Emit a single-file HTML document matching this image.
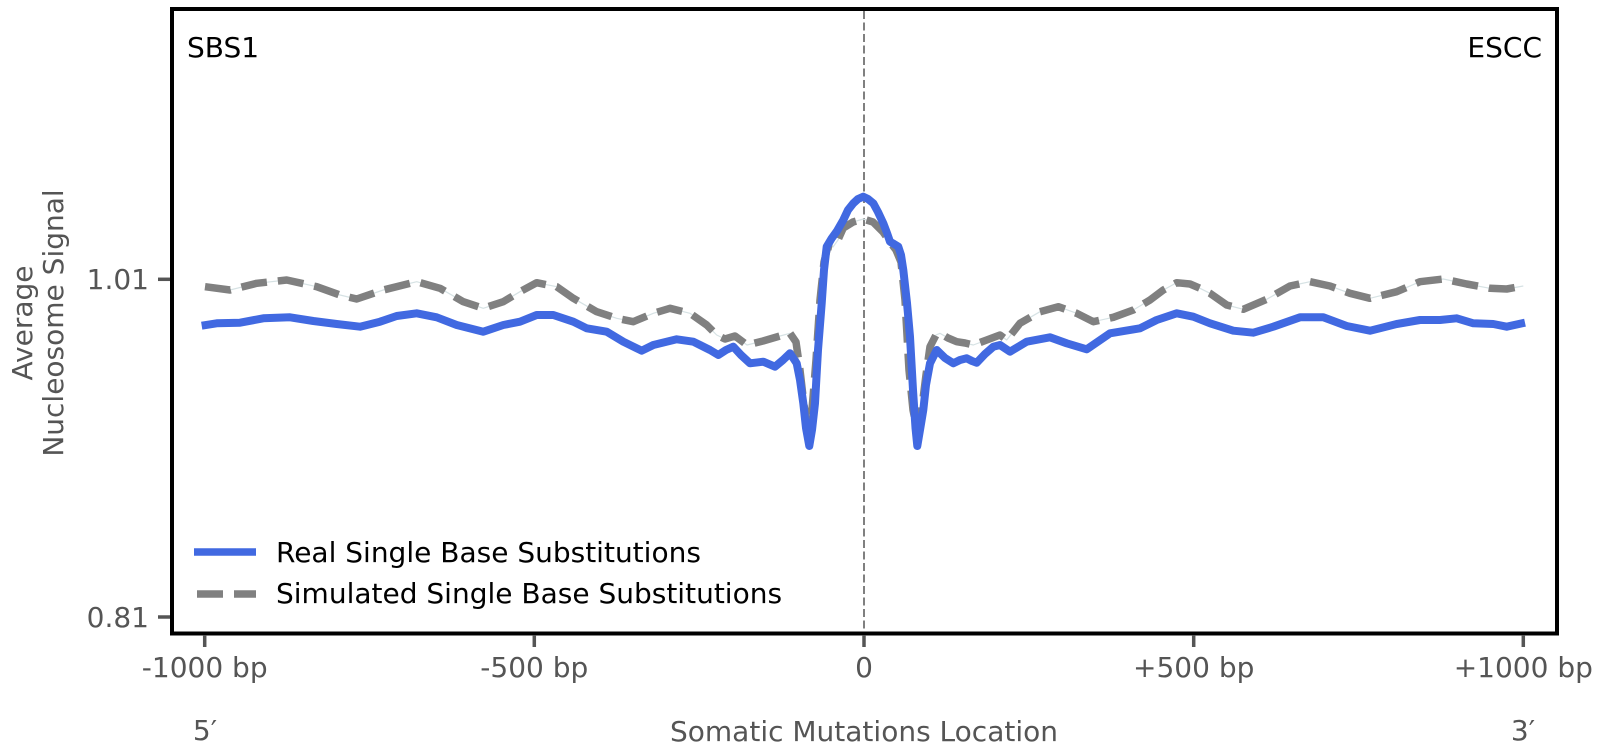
<!DOCTYPE html>
<html>
<head>
<meta charset="utf-8">
<style>
  html, body { margin: 0; padding: 0; background: #ffffff; }
  svg { display: block; }
  text { font-family: "DejaVu Sans", "Liberation Sans", sans-serif; }
</style>
</head>
<body>
<svg width="1603" height="756" viewBox="0 0 1603 756" xmlns="http://www.w3.org/2000/svg">
  <rect x="0" y="0" width="1603" height="756" fill="#ffffff"/>

  <!-- vertical center dashed line -->
  <line x1="864" y1="11" x2="864" y2="632" stroke="#808080" stroke-width="2" stroke-dasharray="8 3.5"/>

  <!-- simulated (gray dashed) with thin connector -->
  <polyline fill="none" stroke="#d6e2e4" stroke-width="1.2" stroke-linejoin="round" points="
205,286.7 230,290 256.7,283.3 286.7,280 316.7,286.7 340,295 356.7,299 383.3,290 416.7,281.7 440,288.3 463.3,301.7 483.3,308.3 503.3,301.7 520,291.7 536.7,282.7 556.7,286.7 573.3,298.3 596.7,311.7 616.7,318.3 633.3,321.7 653.3,313.3 670,308.3 690,313.3 706.7,325 716.7,335 725,339 735,336 747,345 763,341 780,336 790,333.3 796,342 800,370 804,405 808,428 812,410 816,360 820,300 824,262 828,246 833,247 838,240 843.3,228 853,222 863.3,219 873,222 883,232 890,242 896,250 901,262 905,300 909,370 913,410 917,430 921,415 926,375 930,346.7 936,335 940,333.3 948,338 956.7,341.7 965,343 973.3,345 986.7,340 1000,335 1006.7,340 1020,323.3 1040,311.7 1058.3,306.7 1076.7,313.3 1093.3,321.7 1113.3,317.3 1133.3,310 1150,300 1163.3,290 1176.7,282.7 1190,284 1200,288.3 1210,293.3 1226.7,305 1243.3,309.3 1266.7,299.3 1290,286 1310,281.7 1330,286 1350,293.3 1370,298.3 1396.7,291.7 1420,281.7 1443.3,279 1466.7,284 1490,288.3 1506.7,289 1523.3,286"/>
  <polyline fill="none" stroke="#808080" stroke-width="7.5" stroke-dasharray="26 11" stroke-linejoin="round" points="
205,286.7 230,290 256.7,283.3 286.7,280 316.7,286.7 340,295 356.7,299 383.3,290 416.7,281.7 440,288.3 463.3,301.7 483.3,308.3 503.3,301.7 520,291.7 536.7,282.7 556.7,286.7 573.3,298.3 596.7,311.7 616.7,318.3 633.3,321.7 653.3,313.3 670,308.3 690,313.3 706.7,325 716.7,335 725,339 735,336 747,345 763,341 780,336 790,333.3 796,342 800,370 804,405 808,428 812,410 816,360 820,300 824,262 828,246 833,247 838,240 843.3,228 853,222 863.3,219 873,222 883,232 890,242 896,250 901,262 905,300 909,370 913,410 917,430 921,415 926,375 930,346.7 936,335 940,333.3 948,338 956.7,341.7 965,343 973.3,345 986.7,340 1000,335 1006.7,340 1020,323.3 1040,311.7 1058.3,306.7 1076.7,313.3 1093.3,321.7 1113.3,317.3 1133.3,310 1150,300 1163.3,290 1176.7,282.7 1190,284 1200,288.3 1210,293.3 1226.7,305 1243.3,309.3 1266.7,299.3 1290,286 1310,281.7 1330,286 1350,293.3 1370,298.3 1396.7,291.7 1420,281.7 1443.3,279 1466.7,284 1490,288.3 1506.7,289 1523.3,286"/>

  <!-- real (blue solid) -->
  <polyline fill="none" stroke="#4169E1" stroke-width="8" stroke-linejoin="round" stroke-linecap="butt" points="
201.7,325.7 216.7,323.3 240,322.7 263.3,318.3 290,317.3 313.3,321 336.7,324 360,326.7 380,321.7 396.7,316 416.7,313.3 436.7,317.3 456.7,325 483.3,331.7 503.3,325 520,321.7 536.7,315 553.3,315 573.3,321.7 586.7,328.3 606.7,331.7 623.3,341.7 641.7,350.7 653.3,345 676.7,339.3 693.3,341.7 700,345 710,350 718.3,355 726,350 733.3,346.7 741,355 750,363.3 763.3,361.7 775,366.7 783,360 790,353.3 796.7,363.3 800,380 803.3,403.3 806,428 809.3,446 812,430 815,403.3 818,350 821.7,303.3 824,270 826.7,246.7 831.7,238.3 837,231 843.3,220 848,210 853.3,203.3 858,199 863.3,196.7 868,199 873.3,203.3 878,212 883.3,223.3 887,233 890,241.7 894,244 898.3,246.7 901,255 903.3,270 907,303 910,336.7 913,390 915.5,428 917.3,446 920,430 923.3,410 926,385 930,363.3 936.7,350 945,358 953.3,363.3 960,360 966.7,358.3 972,361 976.7,362.7 985,354 993.3,346.7 1000,345 1010,351.7 1026.7,341.7 1050,337.3 1066.7,343.3 1086.7,349.3 1110,333.3 1140,328.3 1156.7,320 1176.7,313.3 1193.3,316.7 1210,323.3 1233.3,330.7 1253.3,332.7 1273.3,326.7 1300,317.3 1323.3,317.3 1346.7,326 1370,330.7 1396.7,324 1420,320 1440,320 1456.7,318.3 1473.3,323.3 1493.3,324 1506.7,326.7 1525,322.7"/>

  <!-- axes frame -->
  <rect x="172" y="9" width="1385" height="624.5" fill="none" stroke="#000000" stroke-width="4"/>

  <!-- y ticks -->
  <line x1="158" y1="279.3" x2="170" y2="279.3" stroke="#555555" stroke-width="3.5"/>
  <line x1="158" y1="617" x2="170" y2="617" stroke="#555555" stroke-width="3.5"/>
  <text x="149" y="289" font-size="28" fill="#555555" text-anchor="end">1.01</text>
  <text x="149" y="627" font-size="28" fill="#555555" text-anchor="end">0.81</text>

  <!-- x ticks -->
  <g stroke="#555555" stroke-width="3.5">
    <line x1="204.7" y1="635" x2="204.7" y2="647"/>
    <line x1="534.3" y1="635" x2="534.3" y2="647"/>
    <line x1="864" y1="635" x2="864" y2="647"/>
    <line x1="1193.7" y1="635" x2="1193.7" y2="647"/>
    <line x1="1523.3" y1="635" x2="1523.3" y2="647"/>
  </g>
  <g font-size="28" fill="#555555" text-anchor="middle">
    <text x="204.7" y="677">-1000 bp</text>
    <text x="534.3" y="677">-500 bp</text>
    <text x="864" y="677">0</text>
    <text x="1193.7" y="677">+500 bp</text>
    <text x="1523.3" y="677">+1000 bp</text>
    <text x="205" y="740">5′</text>
    <text x="1523" y="740">3′</text>
    <text x="864" y="741">Somatic Mutations Location</text>
  </g>

  <!-- y axis label -->
  <g font-size="28" fill="#555555" text-anchor="middle">
    <text transform="translate(32,323) rotate(-90)">Average</text>
    <text transform="translate(63,323) rotate(-90)">Nucleosome Signal</text>
  </g>

  <!-- corner labels -->
  <text x="187" y="57" font-size="28" fill="#000000">SBS1</text>
  <text x="1542" y="57" font-size="28" fill="#000000" text-anchor="end">ESCC</text>

  <!-- legend -->
  <line x1="194" y1="552" x2="256" y2="552" stroke="#4169E1" stroke-width="7.5"/>
  <text x="276" y="562" font-size="28" fill="#000000">Real Single Base Substitutions</text>
  <line x1="197" y1="594" x2="256" y2="594" stroke="#808080" stroke-width="7.5" stroke-dasharray="26 11"/>
  <text x="276" y="603" font-size="28" fill="#000000">Simulated Single Base Substitutions</text>
</svg>
</body>
</html>
